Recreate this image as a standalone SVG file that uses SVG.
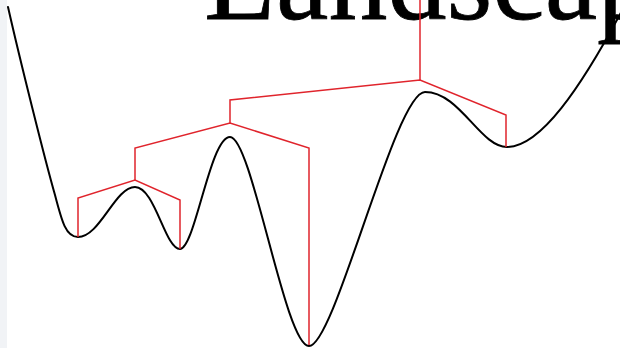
<svg xmlns="http://www.w3.org/2000/svg" width="620" height="348" viewBox="0 0 620 348">
<style>
.curve{fill:none;stroke:#000;stroke-width:2;stroke-linejoin:round;stroke-linecap:round}
.tree{fill:none;stroke:#e0242c;stroke-width:1.5;stroke-linejoin:miter}
.title{font-family:"Liberation Serif","Times New Roman",serif;font-size:118px;fill:#000;stroke:#000;stroke-width:0.8}
</style>
<rect x="0" y="0" width="620" height="348" fill="#fff"/>
<rect x="0" y="0" width="7" height="348" fill="#f1f3f6"/>
<g id="title"><text class="title" x="204" y="19">Landscap</text></g>
<g id="landscape">
<path class="curve" d="M8,7 C20,60 45,160 55,195 C62,222 66,237 78,237 C100,237 115,187 135,187 C155,187 165,249 180,249 C195,249 210,137 230,137 C252,137 285,346 309,346 C335,346 395,92 425,92 C460,92 480,147 507,147 C540,147 580,90 625,5"/>
</g>
<g id="connectors">
<path class="tree" d="M78,237 V198 L135,180 L180,200 V249"/>
<path class="tree" d="M135,180 V148 L230,123 L309,148 V345"/>
<path class="tree" d="M230,123 V100 L420,80 L506,115 V147"/>
<path class="tree" d="M420,80 V0"/>
</g>
</svg>
